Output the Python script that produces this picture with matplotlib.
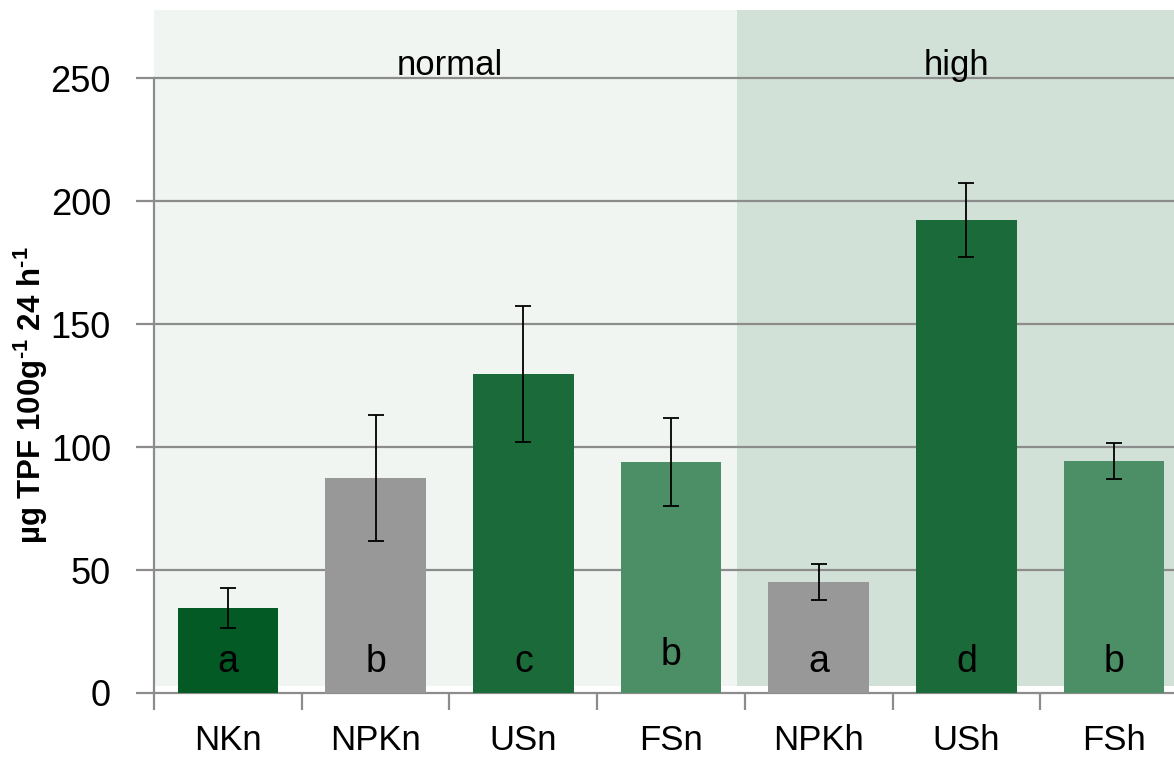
import numpy as np
import matplotlib
matplotlib.use("Agg")
import matplotlib.pyplot as plt

plt.rcParams['font.family'] = ['Liberation Sans', 'DejaVu Sans']
plt.rcParams['mathtext.fontset'] = 'custom'
plt.rcParams['mathtext.rm'] = 'Liberation Sans:bold'
plt.rcParams['mathtext.default'] = 'regular'

treatments = ["NKn", "NPKn", "USn", "FSn", "NPKh", "USh", "FSh"]
means = [34.6, 87.4, 129.7, 93.9, 45.1, 192.3, 94.3]
errors = [8.2, 25.6, 27.6, 17.9, 7.3, 14.9, 7.5]
letters = ["a", "b", "c", "b", "a", "d", "b"]
colors = ["#035a25", "#989898", "#1b6b3a", "#4c8e65", "#989898", "#1b6b3a", "#4c8e65"]
groups = ["normal", "high"]

fig = plt.figure(figsize=(11.74, 7.64), dpi=100)
ax = fig.add_axes([154 / 1174, 71 / 764, 1034 / 1174, 682.6 / 764])

x = np.arange(len(treatments))
# shaded group backgrounds
ax.axvspan(-0.5, 3.45, ymin=2.8 / 277.5, ymax=1, color="#f0f5f1", zorder=0, lw=0)
ax.axvspan(3.45, 6.5, ymin=2.8 / 277.5, ymax=1, color="#d2e1d8", zorder=0, lw=0)

ax.bar(x, means, width=0.68, color=colors, zorder=3)
ax.errorbar(x, means, yerr=errors, fmt="none", ecolor="black", elinewidth=1.3,
            capsize=5.5, capthick=1.3, zorder=4)

for xi, lab in zip(x, letters):
    yb = 11.4 if xi == 3 else 8.7
    ax.text(xi, yb, lab, ha="center", va="baseline", fontsize=27, zorder=5)

ax.text(1.5, 251.2, groups[0], ha="center", va="baseline", fontsize=25)
ax.text(4.93, 251.2, groups[1], ha="center", va="baseline", fontsize=25)

ax.set_xlim(-0.5, 6.5)
ax.set_ylim(0, 277.5)
ax.set_yticks(np.arange(0, 251, 50))
ax.yaxis.grid(True, color="#8c8c8c", lw=1.6, zorder=1)
ax.set_axisbelow(False)
ax.set_xticks(x)
ax.set_xticklabels(treatments)
ax.set_xticks(np.arange(-0.5, 7, 1), minor=True)
ax.tick_params(axis="x", which="major", length=0, pad=22, labelsize=25)
ax.tick_params(axis="x", which="minor", length=12, width=1.6, color="#8c8c8c")
ax.tick_params(axis="y", length=13, width=1.6, color="#8c8c8c", labelsize=26, pad=18)

for s in ["top", "right"]:
    ax.spines[s].set_visible(False)
ax.spines["left"].set_bounds(0, 250)
for s in ["left", "bottom"]:
    ax.spines[s].set_color("#8c8c8c")
    ax.spines[s].set_linewidth(1.6)
ax.yaxis.get_gridlines()[0].set_visible(False)

ax.set_ylabel(r"µg TPF 100g$^{\text{-}1}$ 24 h$^{\text{-}1}$", fontsize=22.5, fontweight="bold")
ax.yaxis.set_label_coords(-104 / 1034, 121 / 277.5)

fig.savefig("out.png", dpi=100)
